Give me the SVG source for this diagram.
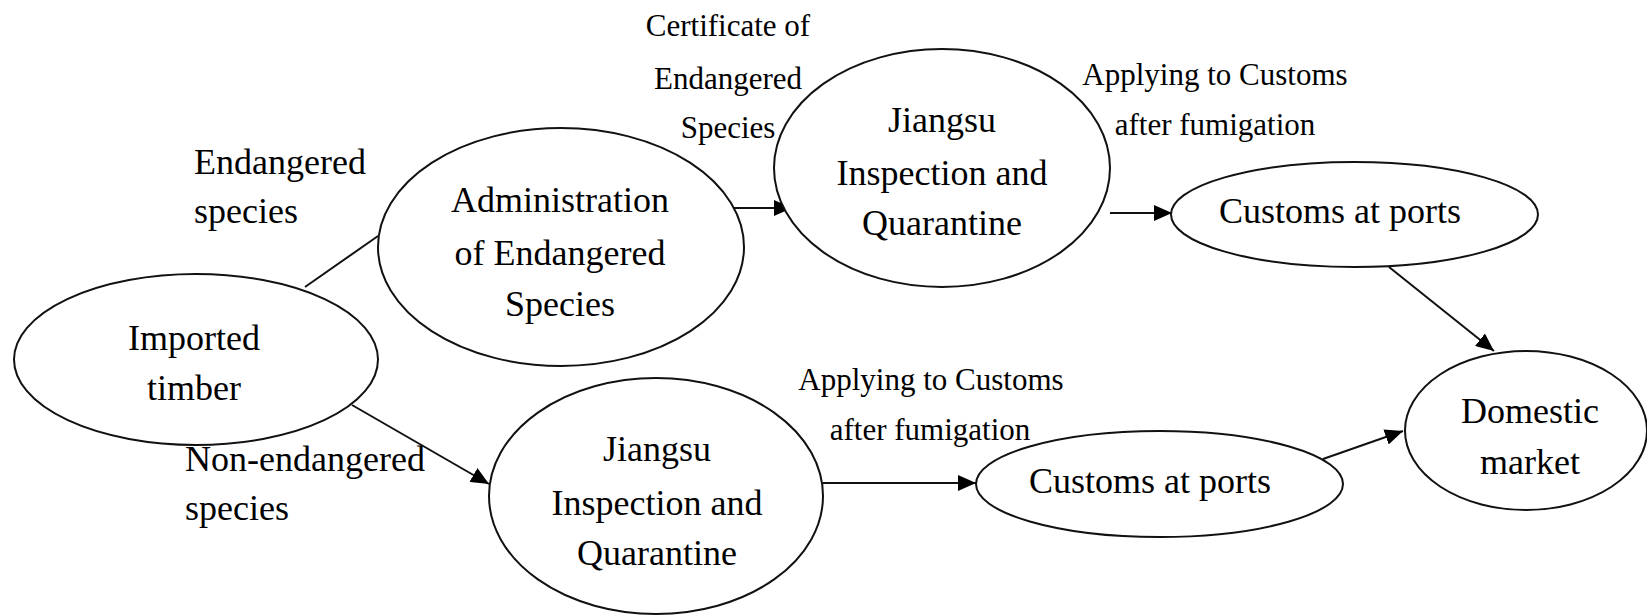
<svg xmlns="http://www.w3.org/2000/svg" width="1647" height="616" viewBox="0 0 1647 616">
<style>
.node{fill:#fff;stroke:#111;stroke-width:2}
.t{font-family:'Liberation Serif','DejaVu Serif',serif;font-size:36px;fill:#000;text-anchor:middle}
.s{font-family:'Liberation Serif','DejaVu Serif',serif;font-size:31px;fill:#000;text-anchor:middle}
.c{stroke:#111;stroke-width:2;fill:none}
</style>
<defs>
<marker id="ah" viewBox="0 0 18 16" refX="18" refY="8" markerWidth="18" markerHeight="16" markerUnits="userSpaceOnUse" orient="auto">
<path d="M0,0 L18,8 L0,16 z" fill="#000"/>
</marker>
</defs>
<rect width="1647" height="616" fill="#fff"/>
<g id="connectors">
<line class="c" x1="305" y1="287" x2="378" y2="236"/>
<line class="c" x1="734" y1="208" x2="792" y2="208" marker-end="url(#ah)"/>
<line class="c" x1="1110" y1="213" x2="1172" y2="213" marker-end="url(#ah)"/>
<line class="c" x1="1389" y1="267" x2="1494" y2="351" marker-end="url(#ah)"/>
<line class="c" x1="352" y1="405" x2="489" y2="484" marker-end="url(#ah)"/>
<line class="c" x1="823" y1="483" x2="976" y2="483" marker-end="url(#ah)"/>
<line class="c" x1="1323" y1="459" x2="1403" y2="431" marker-end="url(#ah)"/>
</g>
<g id="imported">
<ellipse class="node" cx="196" cy="359.5" rx="182" ry="85.5"/>
<text class="t" x="194" y="350">Imported</text>
<text class="t" x="194" y="400">timber</text>
</g>
<g id="admin">
<ellipse class="node" cx="561" cy="247" rx="183" ry="119"/>
<text class="t" x="560" y="212">Administration</text>
<text class="t" x="560" y="265">of Endangered</text>
<text class="t" x="560" y="316">Species</text>
</g>
<g id="jiangsu-top">
<ellipse class="node" cx="942" cy="168" rx="168" ry="119"/>
<text class="t" x="942" y="132">Jiangsu</text>
<text class="t" x="942" y="185">Inspection and</text>
<text class="t" x="942" y="235">Quarantine</text>
</g>
<g id="customs-top">
<ellipse class="node" cx="1354.5" cy="214.5" rx="183.5" ry="52.5"/>
<text class="t" x="1340" y="223" font-size="37">Customs at ports</text>
</g>
<g id="jiangsu-bottom">
<ellipse class="node" cx="656" cy="496" rx="167" ry="118"/>
<text class="t" x="657" y="461">Jiangsu</text>
<text class="t" x="657" y="515">Inspection and</text>
<text class="t" x="657" y="565">Quarantine</text>
</g>
<g id="customs-bottom">
<ellipse class="node" cx="1159.5" cy="484" rx="183.5" ry="53"/>
<text class="t" x="1150" y="493">Customs at ports</text>
</g>
<g id="domestic">
<ellipse class="node" cx="1526" cy="430.5" rx="121" ry="79.5"/>
<text class="t" x="1530" y="423">Domestic</text>
<text class="t" x="1530" y="474">market</text>
</g>
<g id="labels">
<text class="t" x="194" y="174" style="text-anchor:start">Endangered</text>
<text class="t" x="194" y="223" style="text-anchor:start">species</text>
<text class="s" x="728" y="36">Certificate of</text>
<text class="s" x="728" y="89">Endangered</text>
<text class="s" x="728" y="138">Species</text>
<text class="s" x="1215" y="85">Applying to Customs</text>
<text class="s" x="1215" y="135">after fumigation</text>
<text class="t" x="185" y="471" style="text-anchor:start">Non-endangered</text>
<text class="t" x="185" y="520" style="text-anchor:start">species</text>
<text class="s" x="931" y="390">Applying to Customs</text>
<text class="s" x="930" y="440">after fumigation</text>
</g>
</svg>
